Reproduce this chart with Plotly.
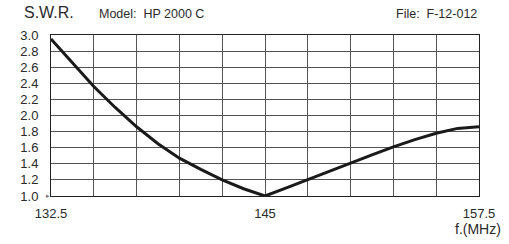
import plotly.graph_objects as go

freq = [132.5, 133.75, 135, 136.25, 137.5, 138.75, 140, 141.25, 142.5, 143.75,
        145, 146.25, 147.5, 148.75, 150, 151.25, 152.5, 153.75, 155, 156.25, 157.5]
swr = [2.95, 2.65, 2.36, 2.10, 1.86, 1.65, 1.47, 1.33, 1.20, 1.09,
       1.00, 1.10, 1.20, 1.31, 1.41, 1.51, 1.61, 1.70, 1.78, 1.84, 1.86]

x_grid = [132.5, 135, 137.5, 140, 142.5, 145, 147.5, 150, 152.5, 155, 157.5]
x_labels = ["132.5", "", "", "", "", "145", "", "", "", "", "157.5"]
y_grid = [1.0, 1.2, 1.4, 1.6, 1.8, 2.0, 2.2, 2.4, 2.6, 2.8, 3.0]
y_labels = ["1.0", "1.2", "1.4", "1.6", "1.8", "2.0", "2.2", "2.4", "2.6", "2.8", "3.0"]

FONT = "Liberation Sans"
TXT = "#2a2a2a"

fig = go.Figure()
fig.add_trace(go.Scatter(x=freq, y=swr, mode="lines",
                         line=dict(color="#1a1a1a", width=3),
                         hoverinfo="skip", showlegend=False))

fig.update_layout(
    width=509, height=244,
    margin=dict(l=51, r=30, t=35, b=48, autoexpand=False),
    paper_bgcolor="white", plot_bgcolor="white",
    font=dict(family=FONT, size=12, color=TXT),
    xaxis=dict(range=[132.5, 157.5], tickvals=x_grid, ticktext=x_labels,
               showgrid=True, gridcolor="#555555", gridwidth=1,
               showline=True, linecolor="#222222", linewidth=1, mirror=True,
               zeroline=False, ticks="", ticklabelstandoff=5,
               tickfont=dict(size=13, color=TXT)),
    yaxis=dict(range=[1.0, 3.0], tickvals=y_grid, ticktext=y_labels,
               showgrid=True, gridcolor="#555555", gridwidth=1,
               showline=True, linecolor="#222222", linewidth=1, mirror=True,
               zeroline=False, ticks="", ticklabelstandoff=9,
               tickfont=dict(size=13, color=TXT)),
)

def px(xp):
    return (xp - 51) / 428.0

def py(yp):
    return (196 - yp) / 161.0

fig.add_annotation(text="S.W.R.", x=px(22), y=py(13), xref="paper", yref="paper",
                   xanchor="left", yanchor="middle", showarrow=False,
                   font=dict(size=16, color=TXT, family=FONT))
fig.add_annotation(text="Model:  HP 2000 C", x=px(97), y=py(14), xref="paper", yref="paper",
                   xanchor="left", yanchor="middle", showarrow=False,
                   font=dict(size=12.5, color=TXT, family=FONT))
fig.add_annotation(text="File:  F-12-012", x=px(479), y=py(14), xref="paper", yref="paper",
                   xanchor="right", yanchor="middle", showarrow=False,
                   font=dict(size=12.5, color=TXT, family=FONT))
fig.add_annotation(text="f.(MHz)", x=px(503), y=py(229), xref="paper", yref="paper",
                   xanchor="right", yanchor="middle", showarrow=False,
                   font=dict(size=14, color=TXT, family=FONT))
fig.add_annotation(text="▸", x=px(48), y=py(196), xref="paper", yref="paper",
                   xanchor="center", yanchor="middle", showarrow=False,
                   font=dict(size=7, color="#777777", family="DejaVu Sans"))

fig.write_html("out.html", config={"displayModeBar": False},
               post_script="document.body.style.margin='0px';")
